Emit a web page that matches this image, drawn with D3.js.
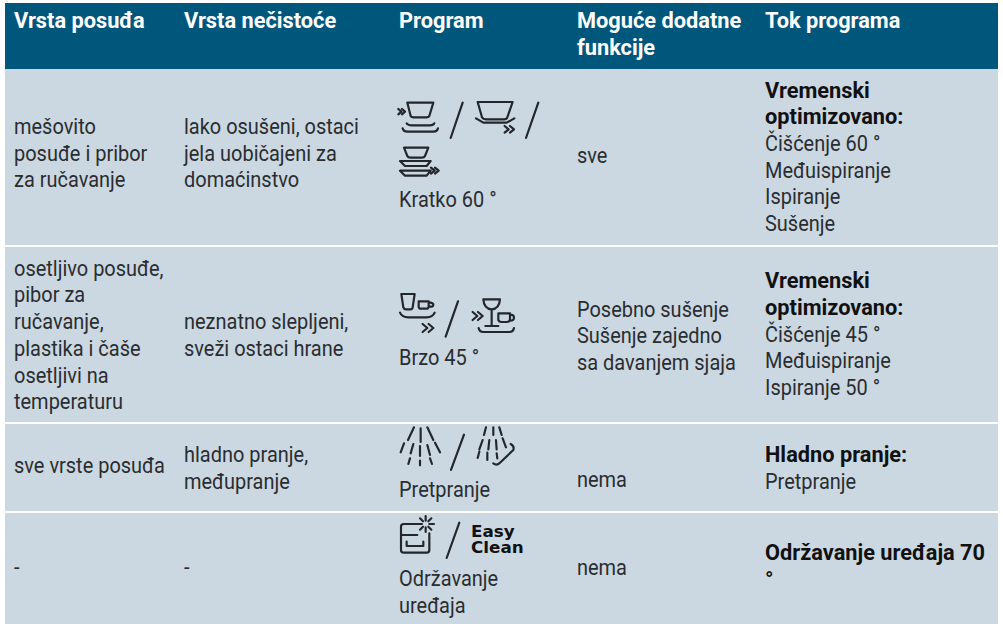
<!DOCTYPE html>
<html>
<head>
<meta charset="utf-8">
<script src="https://cdn.jsdelivr.net/npm/d3@7"></script>
<style>
html, body { margin: 0; padding: 0; background: #fff; }
svg { display: block; }
text { font-family: Roboto, "Liberation Sans", sans-serif; }
</style>
</head>
<body>
<div id="content"></div>
<script>
// table content
var columns = ["Vrsta posuđa", "Vrsta nečistoće", "Program", "Moguće dodatne|funkcije", "Tok programa"];
var dishes = [
  ["mešovito", "posuđe i pribor", "za ručavanje"],
  ["osetljivo posuđe,", "pibor za", "ručavanje,", "plastika i čaše", "osetljivi na", "temperaturu"],
  ["sve vrste posuđa"],
  ["-"]
];
var soiling = [
  ["lako osušeni, ostaci", "jela uobičajeni za", "domaćinstvo"],
  ["neznatno slepljeni,", "sveži ostaci hrane"],
  ["hladno pranje,", "međupranje"],
  ["-"]
];
var programs = [
  ["Kratko 60 °"],
  ["Brzo 45 °"],
  ["Pretpranje"],
  ["Održavanje", "uređaja"]
];
var extras = [
  ["sve"],
  ["Posebno sušenje", "Sušenje zajedno", "sa davanjem sjaja"],
  ["nema"],
  ["nema"]
];
var flowBold = [
  ["Vremenski", "optimizovano:"],
  ["Vremenski", "optimizovano:"],
  ["Hladno pranje:"],
  ["Održavanje uređaja 70", "°"]
];
var flowSteps = [
  ["Čišćenje 60 °", "Međuispiranje", "Ispiranje", "Sušenje"],
  ["Čišćenje 45 °", "Međuispiranje", "Ispiranje 50 °"],
  ["Pretpranje"],
  []
];

var win_width = 1003;
var win_height = 624;
var line_h = 26.7;
// source font is narrower than anything installed
var sx_body = 0.908;
var sx_bold = 0.99;

var svg = d3.select("#content").append("svg")
  .attr("width", win_width)
  .attr("height", win_height);

var rowKeys = d3.range(dishes.length);
var x = d3.scaleOrdinal().domain(d3.range(columns.length)).range([14, 184, 399, 577, 765]);
var rowTop = d3.scaleOrdinal().domain(rowKeys).range([69, 247, 424, 513]);
var rowBottom = d3.scaleOrdinal().domain(rowKeys).range([245, 422, 511, 624]);

// first baselines per row, one list per column
var firstDish = [134, 275.7, 473, 575];
var firstSoil = [134, 329.3, 462, 575];
var firstProg = [207, 365, 497, 586];
var firstExtra = [163, 316.6, 487, 575];
var firstFlow = [97.6, 288.2, 462, 560];

svg.append("rect").attr("x", 5).attr("y", 3).attr("width", 993).attr("height", 66).attr("fill", "#00567b");

svg.selectAll("rect.row").data(rowKeys).enter().append("rect")
  .attr("class", "row")
  .attr("x", 5)
  .attr("width", 993)
  .attr("y", function(d) { return rowTop(d); })
  .attr("height", function(d) { return rowBottom(d) - rowTop(d); })
  .attr("fill", "#cbd8e2");

function put(lines, col, y0, bold, color) {
  lines.forEach(function(s, i) {
    svg.append("text")
      .attr("transform", "translate(" + x(col) + "," + (y0 + i * line_h) + ") scale(" + (bold ? sx_bold : sx_body) + ",1)")
      .attr("font-size", 22)
      .attr("font-weight", bold ? 700 : 400)
      .attr("fill", color)
      .text(s);
  });
}

columns.forEach(function(c, i) {
  put(c.split("|"), i, 28, true, "#fff");
});

rowKeys.forEach(function(r) {
  put(dishes[r], 0, firstDish[r], false, "#2a2d30");
  put(soiling[r], 1, firstSoil[r], false, "#2a2d30");
  put(programs[r], 2, firstProg[r], false, "#2a2d30");
  put(extras[r], 3, firstExtra[r], false, "#2a2d30");
  put(flowBold[r], 4, firstFlow[r], true, "#111");
  put(flowSteps[r], 4, firstFlow[r] + flowBold[r].length * line_h, false, "#2a2d30");
});

// program symbols, drawn at 3x in the coordinates of their own box
var icons = [
  { at: [380, 80], d: "M82 68H160L148 108Q146 112 140 112H100Q94 112 92 108Z M80 130Q84 136 95 136H150Q160 136 163 130 M68 145Q70 155 82 155H160Q172 155 174 145 M55 87L64 95L55 103M66 87L75 95L66 103 M248 68L212 174 M293 66H398L382 112Q380 118 372 118H318Q310 118 306 112Z M288 115L310 128H380L403 115 M374 138L386 148L374 158M390 138L402 148L390 158 M475 68L438 174 M72 203H145L135 228Q133 233 125 233H92Q84 233 82 228Z M60 243H152L140 258H75Z M60 272H152L140 287H75Z M153 263L164 272L153 281M165 263L176 272L165 281" },
  { at: [380, 290], d: "M64 12H104L98 52Q97 58 92 58H78Q72 58 70 52Z M116 34H146V50Q146 56 138 56H124Q116 56 116 50Z M146 38H152Q160 40 160 44Q160 50 152 50H146 M60 68Q66 82 85 82H140Q158 82 164 68 M128 102L142 114L128 126M146 102L160 114L146 126 M234 34L197 140 M310 28H360Q358 56 335 58Q312 56 310 28Z M335 58V106 M316 108H355 M278 66L292 78L278 90M294 66L308 78L294 90 M355 70H390V88Q390 96 380 96H365Q355 96 355 88Z M390 74Q402 74 402 83Q402 92 390 92 M296 114Q298 126 310 126H388Q400 126 402 114" },
  { at: [380, 420], d: "M102 22L84 60M122 25V66M142 22L160 60 M72 70L62 97M100 72L92 100M120 78V108M142 75L150 105M165 68L180 97 M90 115L85 132M120 122V136M150 115L156 132 M252 44L213 150 M318 22L312 45M340 22L340 45M358 22L365 45 M308 60L298 88M328 60L325 88M348 60L350 88M368 55L378 82 M298 95L293 114M322 98L322 120M350 100L352 115 M340 130Q350 138 360 128L400 90Q404 78 392 72" },
  { at: [380, 510], d: "M110 42H71Q63 42 63 50V120Q63 128 71 128H140Q148 128 148 120V70 M63 75H112 M80 95V108H130V95 M137 18V32M137 52V66M112 42H126M148 42H162M120 25L129 34M145 50L154 59M120 59L129 50M145 34L154 25 M238 38L200 144" }
];

svg.selectAll("path.icon").data(icons).enter().append("path")
  .attr("class", "icon")
  .attr("transform", function(d) { return "translate(" + d.at[0] + "," + d.at[1] + ") scale(0.3333)"; })
  .attr("d", function(d) { return d.d; })
  .attr("fill", "none")
  .attr("stroke", "#23262a")
  .attr("stroke-width", 6.5)
  .attr("stroke-linecap", "round")
  .attr("stroke-linejoin", "round");

svg.selectAll("text.easy").data(["Easy", "Clean"]).enter().append("text")
  .attr("class", "easy")
  .attr("transform", function(d, i) { return "translate(471," + (537 + i * 15.7) + ") scale(1.05,1)"; })
  .style("font-family", "'DejaVu Sans'")
  .attr("font-weight", 700)
  .attr("font-size", 16)
  .attr("fill", "#111")
  .text(function(d) { return d; });
</script>
</body>
</html>
